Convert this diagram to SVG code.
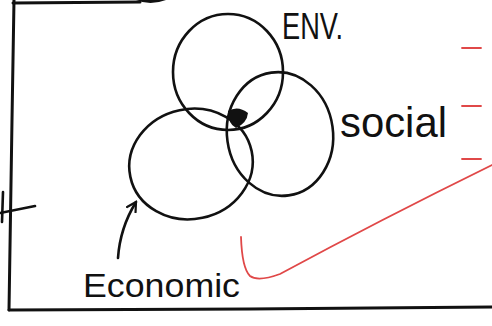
<svg xmlns="http://www.w3.org/2000/svg" width="492" height="326" viewBox="0 0 492 326">
<style>
.ink{fill:none;stroke:#111;stroke-width:2.6;stroke-linecap:round;stroke-linejoin:round}
.frame{fill:none;stroke:#111;stroke-width:3;stroke-linecap:round}
.red{fill:none;stroke:#e04848;stroke-width:1.8;stroke-linecap:round}
.lbl{font-family:"Liberation Sans","DejaVu Sans",sans-serif;fill:#111}
</style>
<defs>
<marker id="arr" viewBox="0 0 12 12" refX="10" refY="6" markerWidth="12" markerHeight="12" markerUnits="userSpaceOnUse" orient="auto">
<path d="M1,1 L10,6 L1,11" fill="none" stroke="#111" stroke-width="2.2" stroke-linecap="round"/>
</marker>
</defs>
<rect width="492" height="326" fill="#fff"/>
<g id="frame">
<path class="frame" d="M14,0 L12,120 L9,310"/>
<path class="frame" d="M13,3 L140,2"/>
<path d="M136,0 Q150,6 166,0 Z" fill="#111"/>
<path class="frame" d="M9,310 L250,309 L492,307"/>
<path class="ink" d="M0,213 L35,206"/>
<path class="ink" d="M3,192 L2,222"/>
</g>
<g id="env">
<ellipse class="ink" cx="228" cy="72" rx="55" ry="58"/>
<text class="lbl" x="282" y="39" font-size="36" textLength="61" lengthAdjust="spacingAndGlyphs">ENV.</text>
</g>
<g id="social">
<ellipse class="ink" cx="280" cy="134" rx="53" ry="62" transform="rotate(-8 280 134)"/>
<text class="lbl" x="340" y="137" font-size="42" textLength="107" lengthAdjust="spacingAndGlyphs">social</text>
</g>
<g id="economic">
<ellipse class="ink" cx="191" cy="164" rx="62" ry="55" transform="rotate(-12 191 164)"/>
<text class="lbl" x="83" y="297" font-size="34" textLength="157" lengthAdjust="spacingAndGlyphs">Economic</text>
</g>
<g id="core">
<path d="M228,111 Q238,105 248,113 Q247,123 236,128 Q228,124 228,111 Z" fill="#111"/>
</g>
<g id="connectors">
<path class="ink" d="M118,258 Q120,228 136,202" marker-end="url(#arr)"/>
</g>
<g id="annotations">
<path class="red" d="M462,48 L481,48"/>
<path class="red" d="M462,106 L481,106" stroke="#e8905a"/>
<path class="red" d="M462,159 L481,159"/>
<path class="red" d="M241,237 Q242,268 250,276 Q258,282 280,274 Q380,220 492,165"/>
</g>
</svg>
